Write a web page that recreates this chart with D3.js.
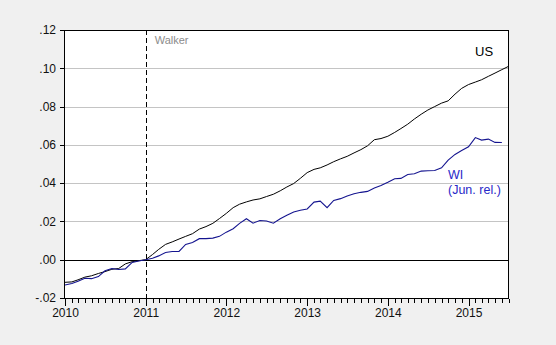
<!DOCTYPE html>
<html>
<head>
<meta charset="utf-8">
<script src="https://cdn.jsdelivr.net/npm/d3@7"></script>
<style>
  html, body { margin: 0; padding: 0; background: #f0f0f0; }
  svg { display: block; font-family: "Liberation Sans", Arial, sans-serif; }
</style>
</head>
<body>
<svg id="chart" width="556" height="345"></svg>
<script>
// Monthly observations, 2010M01 .. 2015M07
const months = d3.timeMonth.range(new Date(2010, 0, 1), new Date(2015, 7, 1));

// Log employment relative to 2011M01
const usValues = [
  -0.0118, -0.0116, -0.0105, -0.0091, -0.0084, -0.0072, -0.0062, -0.0050, -0.0046, -0.0022, -0.0010, -0.0005,
   0.0000,  0.0027,  0.0054,  0.0080,  0.0093,  0.0108,  0.0122,  0.0136,  0.0160,  0.0173,  0.0190,  0.0215,
   0.0242,  0.0272,  0.0290,  0.0302,  0.0312,  0.0318,  0.0330,  0.0342,  0.0360,  0.0380,  0.0398,  0.0425,
   0.0455,  0.0472,  0.0480,  0.0495,  0.0512,  0.0527,  0.0540,  0.0558,  0.0575,  0.0595,  0.0627,  0.0633,
   0.0645,  0.0665,  0.0685,  0.0708,  0.0735,  0.0760,  0.0782,  0.0800,  0.0818,  0.0830,  0.0865,  0.0895,
   0.0915,  0.0928,  0.0940,  0.0958,  0.0975,  0.0993,  0.1010
];

// Wisconsin, June release (through 2015M06)
const wiValues = [
  -0.0132, -0.0124, -0.0112, -0.0097, -0.0099, -0.0088, -0.0058, -0.0046, -0.0051, -0.0048, -0.0014, -0.0007,
   0.0000,  0.0008,  0.0020,  0.0038,  0.0043,  0.0043,  0.0080,  0.0090,  0.0110,  0.0110,  0.0113,  0.0122,
   0.0144,  0.0162,  0.0190,  0.0214,  0.0191,  0.0205,  0.0202,  0.0191,  0.0214,  0.0232,  0.0249,  0.0258,
   0.0265,  0.0301,  0.0306,  0.0272,  0.0310,  0.0319,  0.0333,  0.0345,  0.0352,  0.0357,  0.0375,  0.0388,
   0.0405,  0.0423,  0.0425,  0.0445,  0.0449,  0.0463,  0.0465,  0.0466,  0.0480,  0.0520,  0.0550,  0.0570,
   0.0590,  0.0638,  0.0625,  0.0630,  0.0613,  0.0612
];

const yTicks = [-0.02, 0.00, 0.02, 0.04, 0.06, 0.08, 0.10, 0.12];
const yearTicks = [2010, 2011, 2012, 2013, 2014, 2015];
const walkerDate = new Date(2011, 0, 1);

const svg = d3.select("#chart");
const frame = { left: 64, right: 509, top: 30, bottom: 298 };

const x = d3.scaleTime()
  .domain([months[0], months[months.length - 1]])
  .range([65, 508.5]);
const y = d3.scaleLinear()
  .domain([-0.02, 0.12])
  .range([frame.bottom, frame.top]);

const fmt = v => (v < 0 ? "-" : "") + Math.abs(v).toFixed(2).replace(/^0/, "");
const px = v => Math.round(v) + 0.5;

// plot background
svg.append("rect")
  .attr("x", frame.left).attr("y", frame.top)
  .attr("width", frame.right - frame.left).attr("height", frame.bottom - frame.top)
  .attr("fill", "#ffffff");

// horizontal grid
svg.append("g")
  .selectAll("line")
  .data(yTicks.filter(v => v > -0.02 && v < 0.12 && v !== 0))
  .join("line")
  .attr("x1", frame.left).attr("x2", frame.right)
  .attr("y1", d => px(y(d))).attr("y2", d => px(y(d)))
  .attr("stroke", "#c4c4c4").attr("stroke-width", 1)
  .attr("shape-rendering", "crispEdges");

// zero line
svg.append("line")
  .attr("x1", frame.left).attr("x2", frame.right)
  .attr("y1", px(y(0))).attr("y2", px(y(0)))
  .attr("stroke", "#000").attr("stroke-width", 1.2)
  .attr("shape-rendering", "crispEdges");

// Walker inauguration marker
svg.append("line")
  .attr("x1", px(x(walkerDate))).attr("x2", px(x(walkerDate)))
  .attr("y1", frame.top).attr("y2", frame.bottom)
  .attr("stroke", "#000").attr("stroke-width", 1)
  .attr("stroke-dasharray", "5,3")
  .attr("shape-rendering", "crispEdges");
svg.append("text")
  .attr("x", x(walkerDate) + 9).attr("y", 44)
  .attr("font-size", 11).attr("fill", "#8c8c8c")
  .text("Walker");

// series lines
const line = d3.line()
  .x((d, i) => x(months[i]))
  .y(d => y(d));

svg.append("path")
  .datum(usValues)
  .attr("fill", "none").attr("stroke", "#000").attr("stroke-width", 1)
  .attr("d", line);

svg.append("path")
  .datum(wiValues)
  .attr("fill", "none").attr("stroke", "#14148f").attr("stroke-width", 1.1)
  .attr("d", line);

// frame
svg.append("rect")
  .attr("x", frame.left + 0.5).attr("y", frame.top + 0.5)
  .attr("width", frame.right - frame.left - 1).attr("height", frame.bottom - frame.top)
  .attr("fill", "none").attr("stroke", "#000").attr("stroke-width", 1)
  .attr("shape-rendering", "crispEdges");

// y axis
const yAxis = d3.axisLeft(y)
  .tickValues(yTicks)
  .tickSize(4)
  .tickPadding(4)
  .tickFormat(fmt);
const gy = svg.append("g")
  .attr("transform", `translate(${frame.left},0)`)
  .call(yAxis);
gy.select(".domain").remove();
gy.selectAll("text").attr("font-size", 12).attr("fill", "#111").attr("font-family", "Liberation Sans, Arial, sans-serif");
gy.selectAll(".tick line").attr("stroke", "#000").attr("shape-rendering", "crispEdges");

// x axis: monthly minor ticks, yearly labelled ticks
const gxMinor = svg.append("g")
  .attr("transform", `translate(0,${frame.bottom + 0.5})`)
  .call(d3.axisBottom(x).tickValues(months).tickSize(4).tickFormat(""));
gxMinor.select(".domain").remove();
gxMinor.selectAll(".tick line").attr("stroke", "#000").attr("shape-rendering", "crispEdges");

const gx = svg.append("g")
  .attr("transform", `translate(0,${frame.bottom + 0.5})`)
  .call(d3.axisBottom(x)
    .tickValues(yearTicks.map(yr => new Date(yr, 0, 1)))
    .tickSize(7)
    .tickPadding(3)
    .tickFormat(d3.timeFormat("%Y")));
gx.select(".domain").remove();
gx.selectAll("text").attr("font-size", 12).attr("fill", "#111").attr("font-family", "Liberation Sans, Arial, sans-serif");
gx.selectAll(".tick line").attr("stroke", "#000").attr("shape-rendering", "crispEdges");

// series labels
svg.append("text")
  .attr("x", 475).attr("y", 56)
  .attr("font-size", 13).attr("fill", "#000")
  .text("US");
svg.append("text")
  .attr("x", 448).attr("y", 179)
  .attr("font-size", 12.5).attr("fill", "#2828c8")
  .text("WI");
svg.append("text")
  .attr("x", 448).attr("y", 193.5)
  .attr("font-size", 12.5).attr("fill", "#2828c8")
  .text("(Jun. rel.)");
</script>
</body>
</html>
